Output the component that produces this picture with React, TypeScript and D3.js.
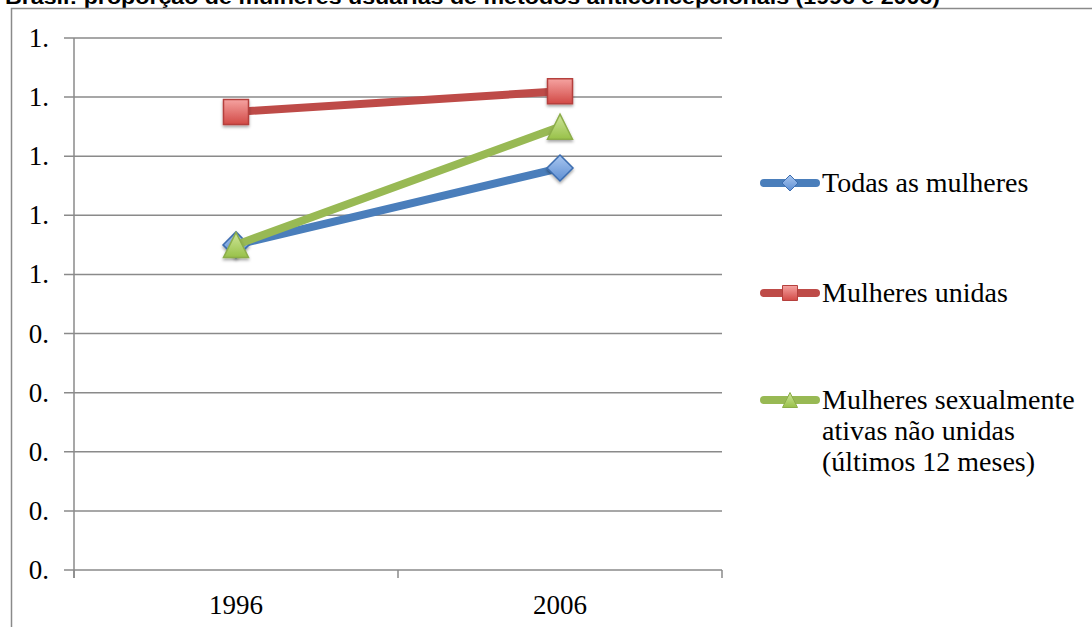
import React from "react";
import * as d3 from "d3";

// Anos pesquisados e proporções por grupo
const years: string[] = ["1996", "2006"];
const todasAsMulheres: number[] = [1.1, 1.36];
const mulheresUnidas: number[] = [1.55, 1.62];
const sexualmenteAtivas: number[] = [1.1, 1.5];
const yTicks: number[] = [0, 0.2, 0.4, 0.6, 0.8, 1.0, 1.2, 1.4, 1.6, 1.8];

const title =
  "Brasil: proporção de mulheres usuárias de métodos anticoncepcionais (1996 e 2006)";

type Series = {
  name: string[];
  values: number[];
  line: string;
  marker: "diamond" | "square" | "triangle";
  grad: string;
  stroke: string;
};

const series: Series[] = [
  { name: ["Todas as mulheres"], values: todasAsMulheres, line: "#4a7ebb", marker: "diamond", grad: "gBlue", stroke: "#3c6db0" },
  { name: ["Mulheres unidas"], values: mulheresUnidas, line: "#be4b48", marker: "square", grad: "gRed", stroke: "#b5403d" },
  {
    name: ["Mulheres sexualmente", "ativas não unidas", "(últimos 12 meses)"],
    values: sexualmenteAtivas,
    line: "#98b954",
    marker: "triangle",
    grad: "gGreen",
    stroke: "#8cad4a",
  },
];

const W = 1092;
const H = 627;
const plot = { left: 74, right: 722, top: 38, bottom: 570 };
const serif = "'Liberation Serif', 'Times New Roman', serif";
const gridColor = "#8a8a8a";

const markerPath = (kind: Series["marker"], size: number): string => {
  const h = size / 2;
  if (kind === "diamond") return `M0,${-h}L${h},0L0,${h}L${-h},0Z`;
  if (kind === "square") return `M${-h},${-h}H${h}V${h}H${-h}Z`;
  return `M0,${-h}L${h},${h}L${-h},${h}Z`;
};

export default function App() {
  const x = d3.scaleBand<string>().domain(years).range([plot.left, plot.right]);
  const y = d3.scaleLinear().domain([0, 1.8]).range([plot.bottom, plot.top]);
  const cx = (yr: string) => (x(yr) ?? 0) + x.bandwidth() / 2;
  const fmt = (v: number) => `${Math.floor(v + 1e-9)}.`;
  const lineGen = d3
    .line<number>()
    .x((_, i) => cx(years[i]))
    .y((v) => y(v));
  const edges = [...years.map((yr) => x(yr) ?? 0), plot.right];
  const legendY = [183, 293, 400];

  return (
    <svg
      width={W}
      height={H}
      style={{ position: "absolute", left: 0, top: 0, display: "block", background: "#fff" }}
    >
      <defs>
        <linearGradient id="gBlue" x1="0" y1="0" x2="0" y2="1">
          <stop offset="0" stopColor="#a9c6ef" />
          <stop offset="1" stopColor="#5e8fd3" />
        </linearGradient>
        <linearGradient id="gRed" x1="0" y1="0" x2="0" y2="1">
          <stop offset="0" stopColor="#f5a3a1" />
          <stop offset="1" stopColor="#d24a46" />
        </linearGradient>
        <linearGradient id="gGreen" x1="0" y1="0" x2="0" y2="1">
          <stop offset="0" stopColor="#cfe69a" />
          <stop offset="1" stopColor="#98c149" />
        </linearGradient>
        <filter id="shadow" x="-50%" y="-50%" width="200%" height="200%">
          <feDropShadow dx="0" dy="2" stdDeviation="1.5" floodColor="#000" floodOpacity="0.35" />
        </filter>
      </defs>

      {/* título */}
      <text
        x={5}
        y={4}
        fontFamily="'Liberation Sans', Arial, sans-serif"
        fontWeight="bold"
        fontSize={20}
        textLength={935}
        lengthAdjust="spacingAndGlyphs"
      >
        {title}
      </text>

      {/* moldura */}
      <path d={`M11.5,${H}V8.5H${W}`} fill="none" stroke={gridColor} strokeWidth={1.5} />

      {/* grade e rótulos do eixo y */}
      {yTicks.map((t) => (
        <g key={t}>
          <line x1={64} x2={plot.right} y1={y(t)} y2={y(t)} stroke={gridColor} strokeWidth={1.5} />
          <text x={49} y={y(t) + 9} textAnchor="end" fontFamily={serif} fontSize={27}>
            {fmt(t)}
          </text>
        </g>
      ))}
      <line x1={plot.left} x2={plot.left} y1={plot.top} y2={plot.bottom + 8} stroke={gridColor} strokeWidth={1.5} />
      {edges.map((e) => (
        <line key={e} x1={e} x2={e} y1={plot.bottom} y2={plot.bottom + 8} stroke={gridColor} strokeWidth={1.5} />
      ))}
      {years.map((yr) => (
        <text key={yr} x={cx(yr)} y={614} textAnchor="middle" fontFamily={serif} fontSize={27}>
          {yr}
        </text>
      ))}

      {/* séries */}
      {series.map((s) => (
        <g key={s.name[0]}>
          <path
            d={lineGen(s.values) ?? ""}
            fill="none"
            stroke={s.line}
            strokeWidth={8}
            strokeLinecap="round"
            strokeLinejoin="round"
          />
          {s.values.map((v, i) => (
            <path
              key={i}
              transform={`translate(${cx(years[i])},${y(v)})`}
              d={markerPath(s.marker, s.marker === "diamond" ? 26 : 25)}
              fill={`url(#${s.grad})`}
              stroke={s.stroke}
              strokeWidth={1.5}
              filter="url(#shadow)"
            />
          ))}
        </g>
      ))}

      {/* legenda */}
      {series.map((s, k) => (
        <g key={s.name[0]}>
          <line x1={764} x2={816} y1={legendY[k]} y2={legendY[k]} stroke={s.line} strokeWidth={8} strokeLinecap="round" />
          <path
            transform={`translate(790,${legendY[k]})`}
            d={markerPath(s.marker, s.marker === "diamond" ? 16 : 15)}
            fill={`url(#${s.grad})`}
            stroke={s.stroke}
            strokeWidth={1}
          />
          {s.name.map((ln, j) => (
            <text key={ln} x={822} y={legendY[k] + 9 + j * 31} fontFamily={serif} fontSize={28}>
              {ln}
            </text>
          ))}
        </g>
      ))}
    </svg>
  );
}
